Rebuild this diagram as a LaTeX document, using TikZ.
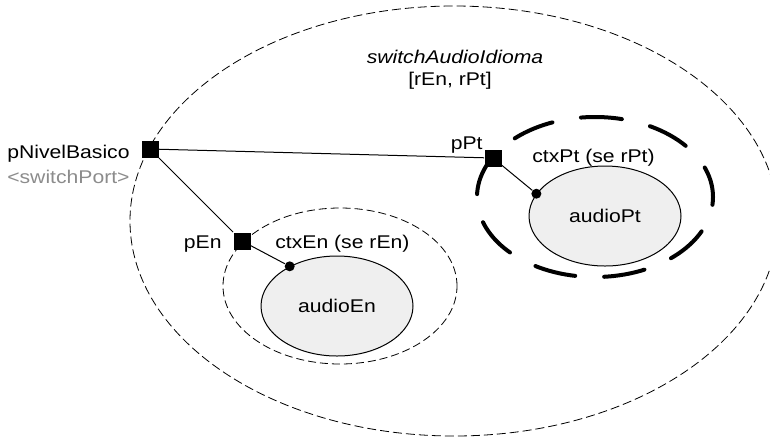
\documentclass[tikz,border=0pt]{standalone}
\usepackage{fontspec}
\setmainfont[FakeStretch=1.15]{Liberation Sans}
\usepackage{tikz}
\usetikzlibrary{shapes.geometric, positioning}
\definecolor{cFill}{HTML}{EFEFEF}
\definecolor{cPort}{HTML}{8C8C8C}

\begin{document}
\begin{tikzpicture}[x=0.5pt, y=-0.5pt, font=\fontsize{9.2}{11}\selectfont,
    ctx/.style={ellipse, draw, line width=0.4pt, dash pattern=on 4.5pt off 2pt, inner sep=0pt},
    ctxSel/.style={ellipse, draw, line width=2pt, line cap=round, dash pattern=on 20.5pt off 14.5pt, dash phase=5pt, inner sep=0pt},
    comp/.style={ellipse, draw, fill=cFill, line width=0.5pt, inner sep=0pt, minimum width=76pt, minimum height=50pt},
    port/.style={rectangle, fill=black, inner sep=0pt, minimum size=8.5pt},
    pin/.style={circle, fill=black, inner sep=0pt, minimum size=5pt},
    lbl/.style={inner sep=0pt},
    wire/.style={line width=0.5pt}]
  \useasboundingbox (0,0) rectangle (770,440);
  % Outer
  \node[ctx, minimum width=324pt, minimum height=215pt] (switchAI) at (454,221) {};
  \node[lbl, anchor=base, font=\fontsize{9.2}{11}\selectfont\itshape] (title) at (455,63) {switchAudioIdioma};
  \node[lbl, anchor=base] (roles) at (450,85) {[rEn, rPt]};
  % Contexts
  \node[ctx, dash pattern=on 4pt off 2pt, minimum width=117pt, minimum height=78pt] (ctxEn) at (340,286) {};
  \node[ctxSel, minimum width=118pt, minimum height=80pt] (ctxPt) at (595,197) {};
  \node[comp] (audioEn) at (337,306) {audioEn};
  \node[comp] (audioPt) at (605,216) {audioPt};
  \node[lbl, anchor=base west] (ctxEnLbl) at (275,248) {ctxEn (se rEn)};
  \node[lbl, anchor=base west] (ctxPtLbl) at (532,162) {ctxPt (se rPt)};
  % Ports
  \node[port] (nb) at (150,149) {};
  \node[port] (pEn) at (242,241) {};
  \node[port] (pPt) at (493,158) {};
  \node[lbl, anchor=base east] (nbLbl) at (130,158) {pNivelBasico};
  \node[lbl, anchor=base east, text=cPort] (nbType) at (130,183) {<switchPort>};
  \node[lbl, anchor=base east] (pEnLbl) at (222,248) {pEn};
  \node[lbl, anchor=base east] (pPtLbl) at (483,149) {pPt};
  \node[pin] (dEn) at (audioEn.140) {};
  \node[pin] (dPt) at (audioPt.162) {};
  % Wires
  \draw[wire] (nb) -- (pPt);
  \draw[wire] (nb) -- (pEn);
  \draw[wire] (pEn) -- (dEn);
  \draw[wire] (pPt) -- (dPt);
\end{tikzpicture}
\end{document}
